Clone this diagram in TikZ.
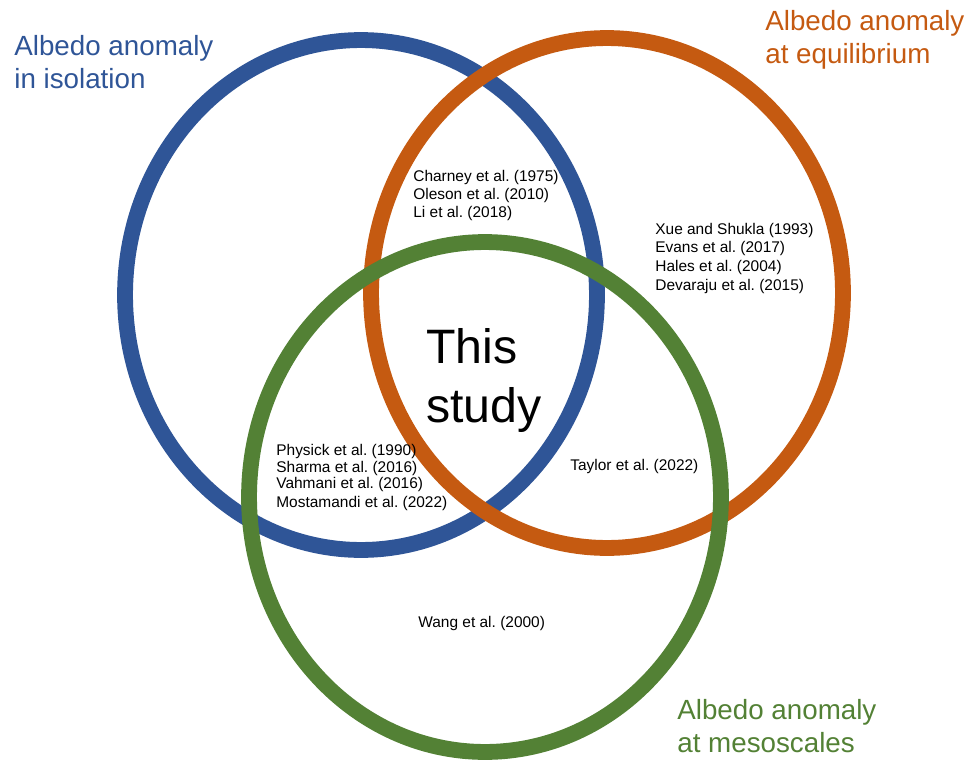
\documentclass[tikz,border=0pt]{standalone}
\usepackage{fontspec}
\setmainfont{Liberation Sans}
\usetikzlibrary{shapes.geometric, positioning}
\definecolor{isoblue}{HTML}{2F5597}
\definecolor{equiorange}{HTML}{C55A11}
\definecolor{mesogreen}{HTML}{538135}
\frenchspacing

\begin{document}
\begin{tikzpicture}[x=0.02cm, y=-0.02cm,
        ring/.style={ellipse, draw=#1, line width=9pt, minimum width=9.44cm, minimum height=10.2cm, inner sep=0pt},
        title/.style={anchor=base west, align=left, inner sep=0pt, text=#1, font=\fontsize{15.8}{18.7}\selectfont},
        refs/.style={anchor=base west, align=left, inner sep=0pt, font=\fontsize{8.8}{10}\selectfont}
    ]
        \useasboundingbox (0,0) rectangle (977,764);
        % Three circles
        \node[ring=isoblue] (iso) at (361,295) {};
        \node[ring=equiorange] (equi) at (607,293) {};
        \node[ring=mesogreen] (meso) at (485,497) {};

        % Circle titles (anchored at last baseline)
        \node[title=isoblue] (isotitle) at (14,88) {Albedo anomaly\\in isolation};
        \node[title=equiorange] (equititle) at (765,63) {Albedo anomaly\\at equilibrium};
        \node[title=mesogreen] (mesotitle) at (677,752) {Albedo anomaly\\at mesoscales};

        % References per region
        \node[refs] (isoequi) at (413,217) {Charney et al. (1975)\\Oleson et al. (2010)\\Li et al. (2018)};
        \node[refs, font=\fontsize{8.8}{10.6}\selectfont] (equionly) at (655,290) {Xue and Shukla (1993)\\Evans et al. (2017)\\Hales et al. (2004)\\Devaraju et al. (2015)};
        \node[refs] (isomeso) at (276,507) {Physick et al. (1990)\\[-0.4pt]Sharma et al. (2016)\\[-0.9pt]Vahmani et al. (2016)\\[0.8pt]Mostamandi et al. (2022)};
        \node[refs] (equimeso) at (570,470) {Taylor et al. (2022)};
        \node[refs] (mesoonly) at (418,627) {Wang et al. (2000)};

        % Centre
        \node[anchor=base west, align=left, inner sep=0pt, font=\fontsize{27.5}{33.5}\selectfont] (study) at (426,422) {This\\study};
\end{tikzpicture}
\end{document}
